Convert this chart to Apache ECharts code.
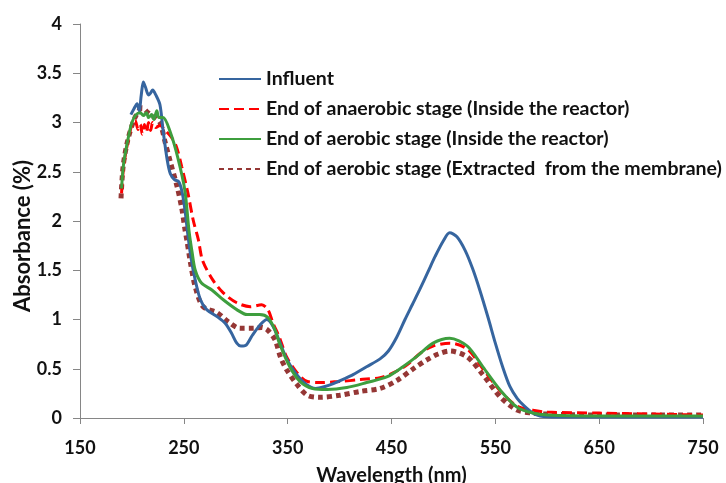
<!DOCTYPE html>
<html>
<head>
<meta charset="utf-8">
<script src="https://cdn.jsdelivr.net/npm/echarts@6/dist/echarts.min.js"></script>
<style>html,body{margin:0;padding:0;background:#fff;}#chart{width:726px;height:483px;}</style>
</head>
<body>
<div id="chart"></div>
<script>
var seriesNames = [
  'Influent',
  'End of anaerobic stage (Inside the reactor)',
  'End of aerobic stage (Inside the reactor)',
  'End of aerobic stage (Extracted  from the membrane)'
];
var xTicks = [150, 250, 350, 450, 550, 650, 750];
var yTicks = [0, 0.5, 1, 1.5, 2, 2.5, 3, 3.5, 4];

var influentX = [199,202,205,207,209,211,213,216,218,220,223,227,230,234,237,241,245,248,251,254,257,261,266,272,282,290,296,301,305,310,316,323,330,336,342,349,358,368,377,386,394,405,413,426,439,447,455,463,470,477,485,492,500,506,513,521,528,535,543,550,557,564,571,578,586,593,610,650,700,750];
var influentY = [3.08,3.14,3.19,3.12,3.28,3.41,3.36,3.28,3.30,3.33,3.28,3.18,2.92,2.62,2.48,2.42,2.40,2.31,2.12,1.85,1.62,1.40,1.20,1.10,1.03,0.96,0.86,0.76,0.73,0.74,0.84,0.94,1.00,0.93,0.78,0.60,0.45,0.34,0.30,0.32,0.35,0.40,0.44,0.52,0.60,0.68,0.82,1.00,1.15,1.30,1.48,1.64,1.80,1.88,1.84,1.70,1.52,1.30,1.02,0.76,0.52,0.32,0.20,0.12,0.05,0.02,0.01,0.01,0.01,0.01];

var anaerobicX = [190,192,196,200,203,206,208,210,212,214,216,218,220,223,227,232,238,243,248,254,259,264,268,278,288,301,314,325,331,336,342,349,359,369,381,400,420,439,452,465,478,490,506,523,538,555,571,586,600,650,700,750];
var anaerobicY = [2.28,2.55,2.80,2.98,3.02,2.93,2.98,2.88,2.98,2.90,3.00,2.92,3.00,2.95,2.97,2.92,2.85,2.75,2.55,2.28,2.01,1.81,1.60,1.40,1.27,1.17,1.13,1.15,1.10,0.96,0.82,0.62,0.46,0.37,0.36,0.37,0.39,0.41,0.46,0.54,0.66,0.73,0.76,0.70,0.50,0.27,0.12,0.08,0.06,0.05,0.04,0.03];

var aerobicX = [190,192,196,200,204,208,211,214,216,219,221,224,226,230,237,244,251,255,258,261,267,277,288,301,311,323,331,338,342,352,362,374,388,407,426,446,461,475,490,506,523,538,555,571,586,600,650,750];
var aerobicY = [2.33,2.58,2.82,3.00,3.08,3.10,3.07,3.10,3.05,3.08,3.03,3.12,3.05,3.05,2.90,2.65,2.31,1.90,1.68,1.50,1.37,1.30,1.20,1.10,1.05,1.05,1.02,0.89,0.76,0.52,0.37,0.30,0.29,0.31,0.36,0.42,0.52,0.63,0.76,0.81,0.73,0.52,0.28,0.11,0.05,0.03,0.02,0.02];

var extractedX = [189.5,191.5,196,203,210,215.5,222,227,232,237,243.5,248,251,253,256,261,268.5,282,292.5,304,317,325,331,338,343,349,359,369,381,400,420,439,455,471,484,495,506,523,538,555,571,586,600,650,700,750];
var extractedY = [2.23,2.55,2.82,3.05,3.15,3.10,3.05,3.00,2.80,2.60,2.35,2.13,1.92,1.80,1.60,1.33,1.13,1.07,0.98,0.91,0.91,0.92,0.89,0.79,0.62,0.49,0.34,0.23,0.21,0.23,0.27,0.30,0.38,0.50,0.59,0.65,0.68,0.62,0.44,0.21,0.08,0.05,0.04,0.03,0.03,0.03];

function pairs(xs, ys) { return xs.map(function (x, i) { return [x, ys[i]]; }); }

var FONT = 'Lato';
var chart = echarts.init(document.getElementById('chart'), null, {renderer: 'canvas'});
chart.setOption({
  backgroundColor: '#ffffff',
  animation: false,
  grid: {left: 80, right: 23, top: 24, bottom: 65, containLabel: false, outerBoundsMode: 'none'},
  legend: {
    orient: 'vertical',
    left: 213,
    top: 64,
    itemWidth: 42,
    itemHeight: 14,
    itemGap: 10,
    itemStyle: {opacity: 0},
    textStyle: {fontFamily: FONT, fontSize: 19.5, fontWeight: 'bold', color: '#111'},
    data: seriesNames
  },
  xAxis: {
    type: 'value',
    min: 150, max: 750, interval: 100,
    name: 'Wavelength (nm)',
    nameLocation: 'middle',
    nameGap: 48,
    nameMoveOverlap: false,
    nameTextStyle: {fontFamily: FONT, fontSize: 20, fontWeight: 'bold', color: '#111'},
    splitLine: {show: false},
    axisLine: {show: true, lineStyle: {color: '#868686', width: 1}},
    axisTick: {show: true, length: 6, lineStyle: {color: '#868686'}},
    axisLabel: {fontFamily: FONT, fontSize: 18, fontWeight: 'bold', color: '#111', margin: 21,
      formatter: function (v) { return xTicks.indexOf(v) >= 0 ? String(v) : ''; }}
  },
  yAxis: {
    type: 'value',
    min: 0, max: 4, interval: 0.5,
    name: 'Absorbance (%)',
    nameLocation: 'middle',
    nameGap: 46,
    nameMoveOverlap: false,
    nameTextStyle: {fontFamily: FONT, fontSize: 22, fontWeight: 'bold', color: '#111', padding: [0, 30, 0, 0]},
    splitLine: {show: false},
    axisLine: {show: true, lineStyle: {color: '#868686', width: 1}},
    axisTick: {show: true, length: 7, lineStyle: {color: '#868686'}},
    axisLabel: {fontFamily: FONT, fontSize: 18, fontWeight: 'bold', color: '#111', margin: 18,
      formatter: function (v) { return yTicks.indexOf(v) >= 0 ? String(v) : ''; }}
  },
  series: [
    {name: seriesNames[0], type: 'line', smooth: 0.3, showSymbol: false, symbol: 'none',
     data: pairs(influentX, influentY), z: 4,
     lineStyle: {color: '#36659f', width: 3}, itemStyle: {color: '#36659f'}},
    {name: seriesNames[1], type: 'line', smooth: 0.3, showSymbol: false, symbol: 'none',
     data: pairs(anaerobicX, anaerobicY), z: 3,
     lineStyle: {color: '#ff0000', width: 3, type: [10, 5]}, itemStyle: {color: '#ff0000'}},
    {name: seriesNames[2], type: 'line', smooth: 0.3, showSymbol: false, symbol: 'none',
     data: pairs(aerobicX, aerobicY), z: 5,
     lineStyle: {color: '#3e9e3e', width: 3}, itemStyle: {color: '#3e9e3e'}},
    {name: seriesNames[3], type: 'line', smooth: 0.3, showSymbol: false, symbol: 'none',
     data: pairs(extractedX, extractedY), z: 2,
     lineStyle: {color: '#953735', width: 5, type: [5, 4]}, itemStyle: {color: '#953735'}}
  ]
});
</script>
</body>
</html>
